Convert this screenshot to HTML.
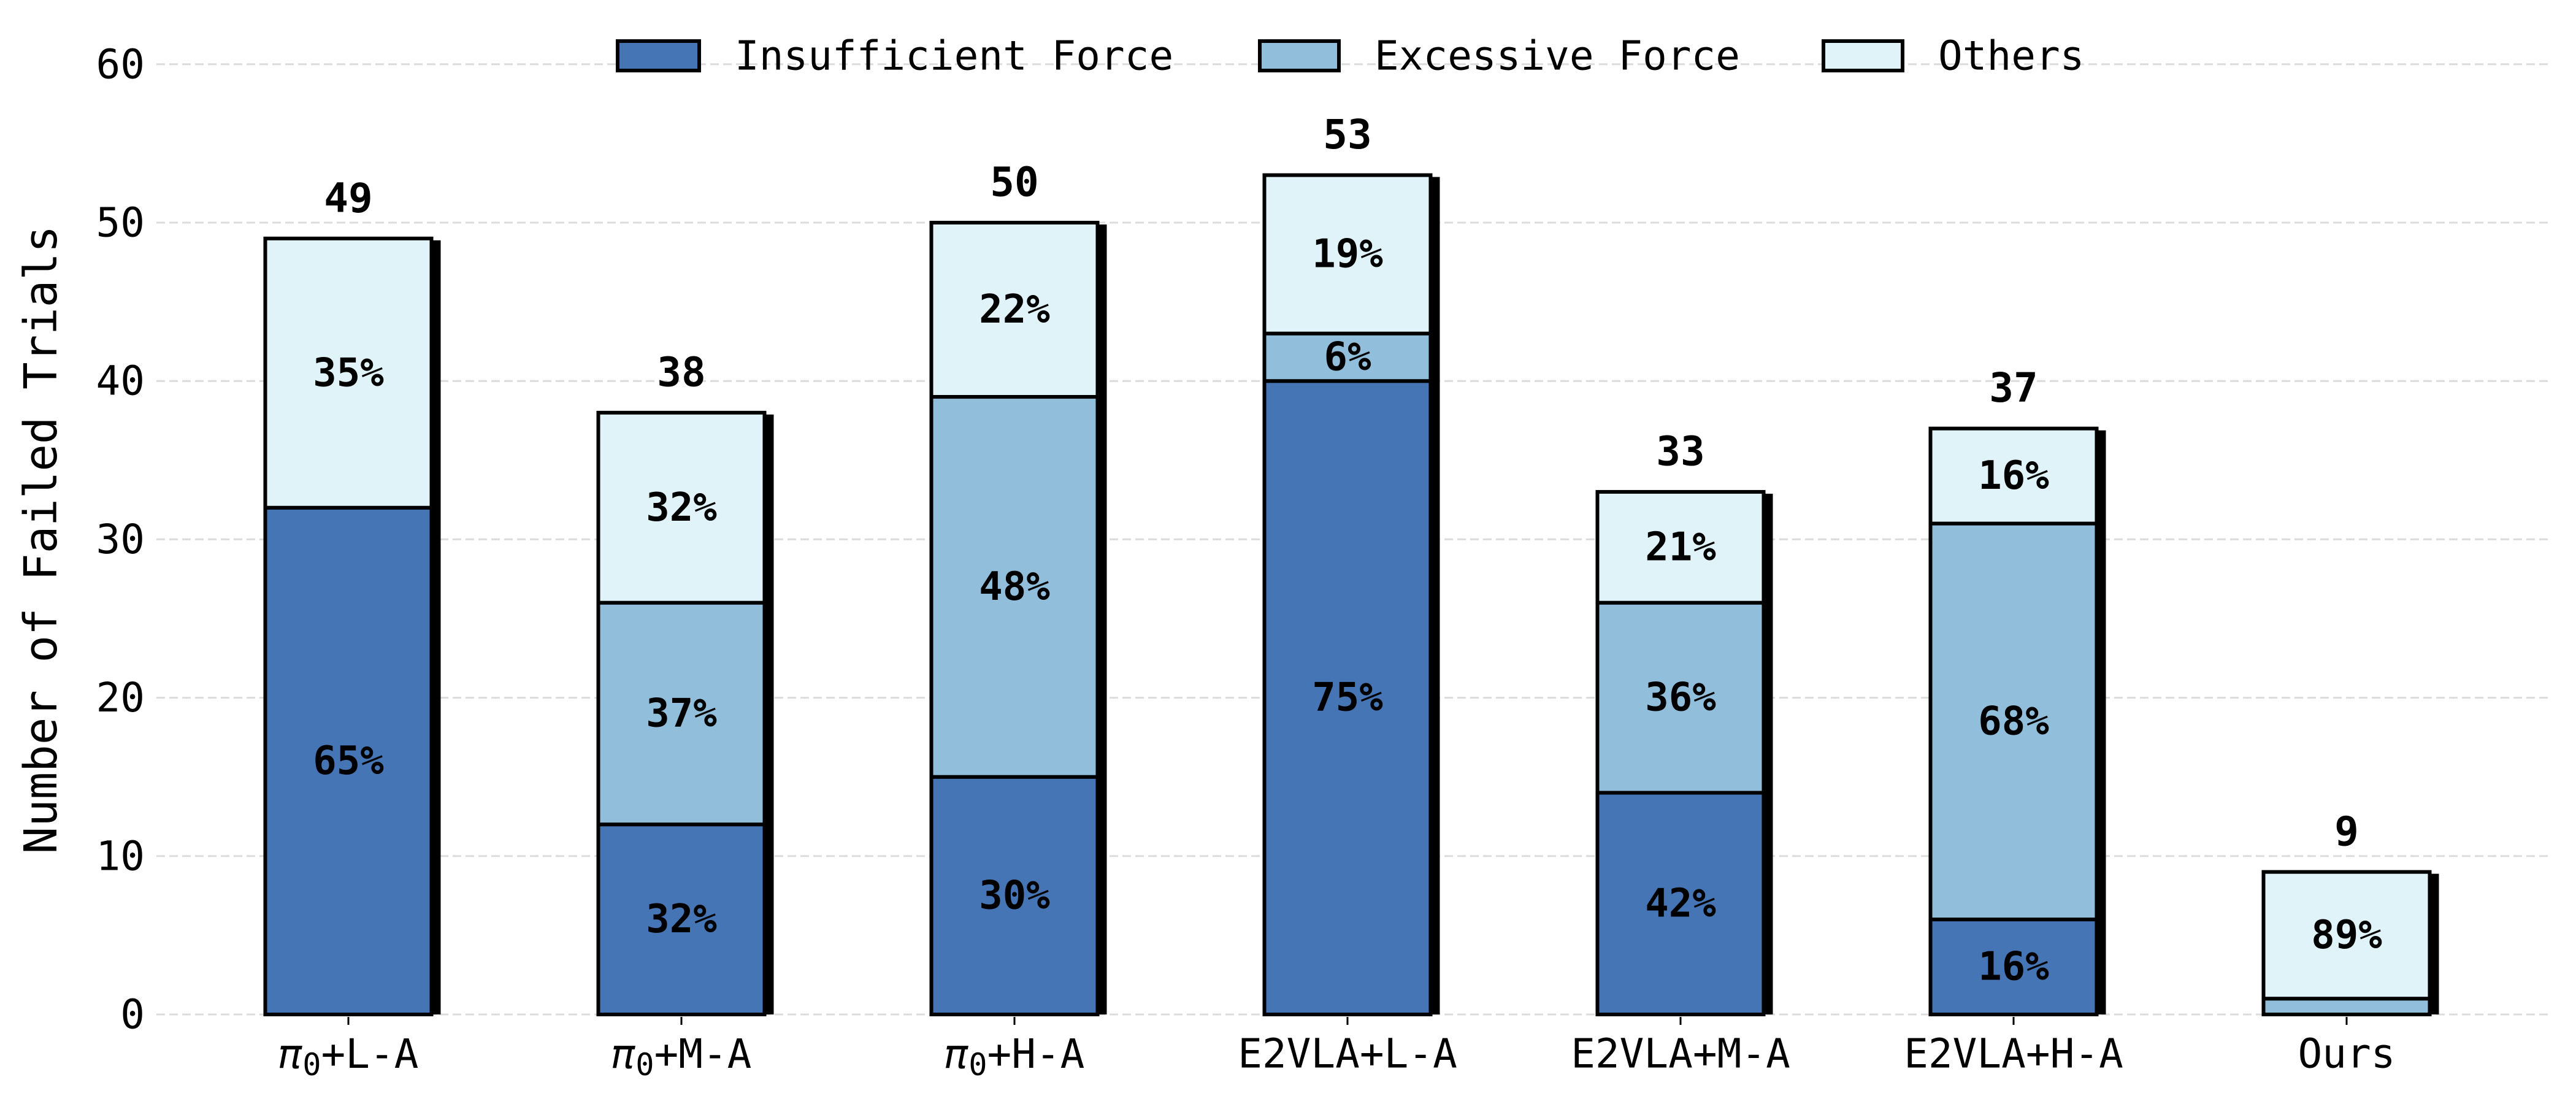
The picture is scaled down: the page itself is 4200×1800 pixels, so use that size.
<!DOCTYPE html>
<html><head><meta charset="utf-8"><style>
html,body{margin:0;padding:0;background:#fff;}
svg{display:block;font-family:"DejaVu Sans Mono","Liberation Mono",monospace;}
</style></head><body>
<svg id="chart" width="4200" height="1800" viewBox="0 0 4200 1800" xmlns="http://www.w3.org/2000/svg">
<g id="grid"></g>
<g id="bars"></g>
<g id="axes"></g>
<text transform="translate(92,880) rotate(-90)" text-anchor="middle" font-size="74">Number of Failed Trials</text>
<g>
 <g>
  <rect x="1007" y="67" width="133" height="48" fill="#4575b4" stroke="#000" stroke-width="6"/>
  <text x="1198" y="91" dominant-baseline="central" font-size="66">Insufficient Force</text>
 </g>
 <g>
  <rect x="2054" y="67" width="129" height="48" fill="#91bfdb" stroke="#000" stroke-width="6"/>
  <text x="2241" y="91" dominant-baseline="central" font-size="66">Excessive Force</text>
 </g>
 <g>
  <rect x="2973" y="67" width="129" height="48" fill="#e0f3f8" stroke="#000" stroke-width="6"/>
  <text x="3160" y="91" dominant-baseline="central" font-size="66">Others</text>
 </g>
</g>
</svg>
<script>
const categories = ["π0+L-A","π0+M-A","π0+H-A","E2VLA+L-A","E2VLA+M-A","E2VLA+H-A","Ours"];
const insufficient = [32,12,15,40,14,6,0];
const excessive = [0,14,24,3,12,25,1];
const others = [17,12,11,10,7,6,8];
const yTicks = [0,10,20,30,40,50,60];

const NS="http://www.w3.org/2000/svg";
const X0=568, STEP=543, BW=271, Y0=1654, PU=25.82;
const xPos=i=>X0+i*STEP;
const yPos=v=>Y0-v*PU;
function mk(tag,attrs,parent){const e=document.createElementNS(NS,tag);for(const k in attrs)e.setAttribute(k,attrs[k]);parent.appendChild(e);return e;}
const grid=document.getElementById('grid'),bars=document.getElementById('bars'),axes=document.getElementById('axes');

yTicks.forEach(t=>{
  const l=mk('line',{x1:255,x2:4154,y1:yPos(t),y2:yPos(t),stroke:'#dcdcdc','stroke-width':3,'stroke-dasharray':'14 7'},grid);
  
  
  const tx=mk('text',{x:236,y:yPos(t),'text-anchor':'end','dominant-baseline':'central','font-size':66},axes);
  tx.textContent=t;
  
  
});

const series=[[insufficient,'#4575b4','insufficient'],[excessive,'#91bfdb','excessive'],[others,'#e0f3f8','others']];
categories.forEach((c,i)=>{
  const total=insufficient[i]+excessive[i]+others[i];
  const cx=xPos(i), left=cx-BW/2;
  const sh=mk('rect',{x:left+BW,y:yPos(total)+3,width:15,height:Y0-yPos(total)-3,fill:'#000'},bars);
  
  
  let base=0;
  series.forEach(([arr,col,nm])=>{
    const v=arr[i];
    if(v>0){
      const r=mk('rect',{x:left,y:yPos(base+v),width:BW,height:v*PU,fill:col,stroke:'#000','stroke-width':6},bars);
      
      
      if(v>=2){
        const t=mk('text',{x:cx,y:yPos(base+v/2),'text-anchor':'middle','dominant-baseline':'central','font-size':64,'font-weight':'bold'},bars);
        t.textContent=Math.round(v/total*100)+'%';
        
        
      }
    }
    base+=v;
  });
  const tt=mk('text',{x:cx,y:yPos(total)-66,'text-anchor':'middle','dominant-baseline':'central','font-size':66,'font-weight':'bold'},bars);
  tt.textContent=total;
  
  
  const tk=mk('line',{x1:cx,x2:cx,y1:Y0+4,y2:Y0+17,stroke:'#000','stroke-width':3},axes);
  
  
  const lb=mk('text',{x:cx,y:1718,'text-anchor':'middle','dominant-baseline':'central','font-size':66},axes);
  
  
  if(c.startsWith('π0')){
    const p=mk('tspan',{'font-style':'italic'},lb);p.textContent='π';
    const s=mk('tspan',{'font-size':50,dy:18},lb);s.textContent='0';
    const r=mk('tspan',{dy:-18},lb);r.textContent=c.slice(2);
  } else lb.textContent=c;
});
</script>
</body></html>
